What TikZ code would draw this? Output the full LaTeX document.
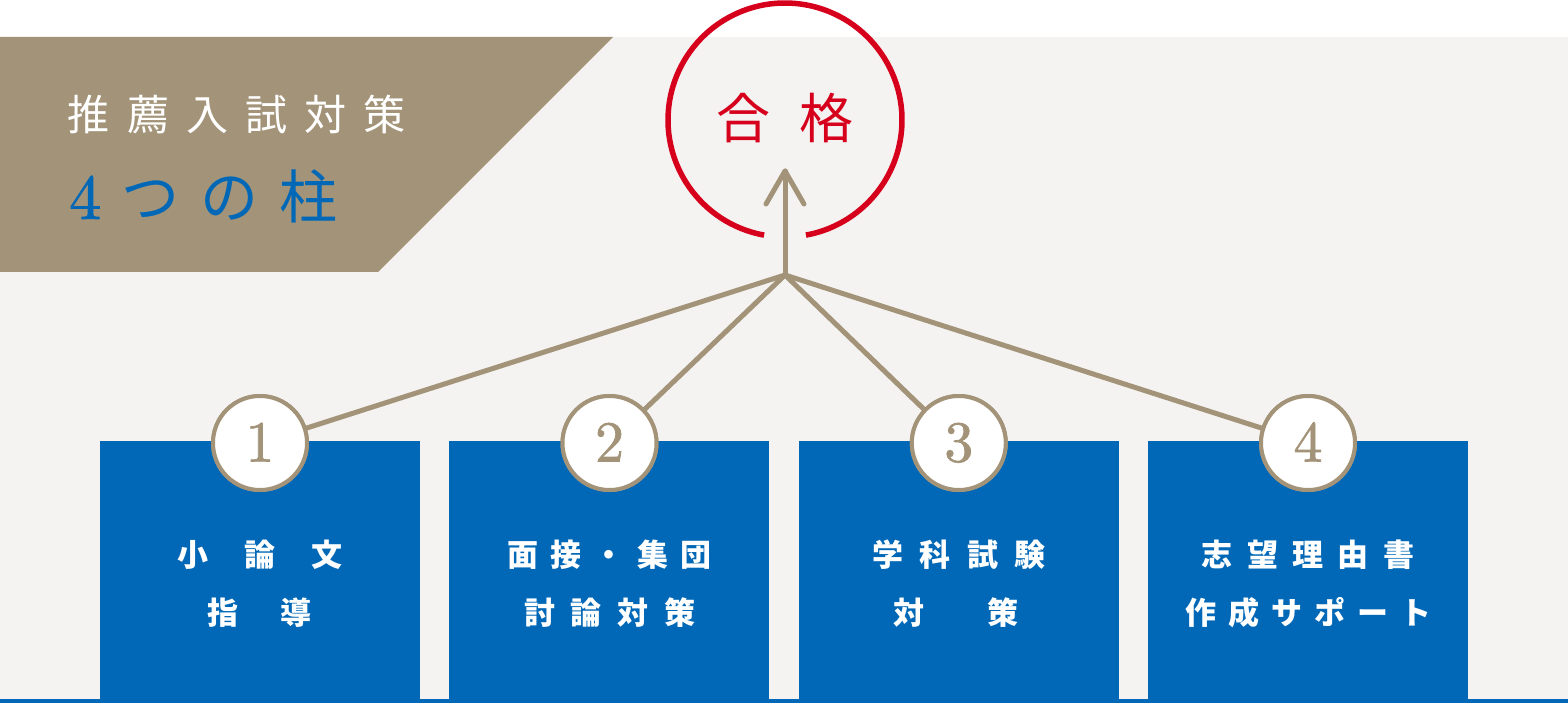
\documentclass[tikz,border=0pt]{standalone}
\usepackage{fontspec}
\newfontfamily\jp{Noto Sans CJK JP}
\newfontfamily\numfont[FakeBold=1.3]{lmroman10-regular.otf}
\definecolor{taupe}{HTML}{A39479}
\definecolor{boxblue}{HTML}{0068B6}
\definecolor{goalred}{HTML}{D6001C}
\definecolor{lightbg}{HTML}{F4F3F1}
\def\mypitch{}
\newcommand\spreadtext[2]{\def\mypitch{#1}\spreadloop#2\relax}
\def\spreadloop#1{\ifx#1\relax\else\makebox[\mypitch]{#1}\expandafter\spreadloop\fi}
\begin{document}
\begin{tikzpicture}[x=1pt,y=-1pt,
  pillar/.style={fill=boxblue, draw=none, minimum width=320pt, minimum height=262pt, inner sep=0pt, outer sep=0pt, anchor=north west},
  numcirc/.style={circle, draw=taupe, line width=4pt, fill=white, minimum size=94pt, inner sep=0pt},
  numtxt/.style={anchor=base, inner sep=0pt, text=taupe, font=\numfont\fontsize{58}{58}\selectfont},
  boxtxt/.style={anchor=base, inner sep=0pt, text=white, font=\jp\bfseries\fontsize{31}{31}\selectfont},
  stem/.style={draw=taupe, line width=5pt, line cap=round, line join=round}]
\useasboundingbox (0,0) rectangle (1568,703);
% background
\fill[white] (0,0) rectangle (1568,703);
\fill[lightbg] (0,37) rectangle (1568,703);
\fill[taupe] (0,37) -- (613,37) -- (378,272) -- (0,272) -- cycle;
\fill[boxblue] (0,699) rectangle (1568,703);
% title
\node[anchor=base, inner sep=0pt, text=white, font=\jp\fontsize{42}{42}\selectfont] (title1) at (236.7,131) {\spreadtext{59.1pt}{推薦入試対策}};
\node[anchor=base west, inner sep=0pt, text=boxblue] (title2) at (59,219) {{\numfont\fontsize{64}{64}\selectfont\makebox[52pt]{4}}{\jp\fontsize{58}{58}\selectfont\spreadtext{79pt}{つの柱}}};
% goal
\node[circle, minimum size=234pt, inner sep=0pt] (goal) at (785,120) {};
\draw[goalred, line width=5.5pt] (goal.center) ++(100.3:117) arc[start angle=100.3, end angle=439.7, radius=117];
\node[anchor=base, inner sep=0pt, text=goalred, font=\jp\fontsize{54}{54}\selectfont] (goaltxt) at (785,139) {\spreadtext{83pt}{合格}};
% boxes
\node[pillar] (b1) at (100,441) {};
\node[pillar] (b2) at (449,441) {};
\node[pillar] (b3) at (799,441) {};
\node[pillar] (b4) at (1148,441) {};
% connectors
\coordinate (junc) at (785,275);
\coordinate (tip) at (785,171);
\node[numcirc] (c1) at (260,443) {};
\node[numcirc] (c2) at (609.5,443) {};
\node[numcirc] (c3) at (958.8,443) {};
\node[numcirc] (c4) at (1308,443) {};
\draw[stem] (junc) -- (c1);
\draw[stem] (junc) -- (c2);
\draw[stem] (junc) -- (c3);
\draw[stem] (junc) -- (c4);
\draw[stem] (junc) -- (tip);
\draw[stem] (tip) ++(-19,33) -- (tip) -- ++(19,33);
% number circles on top
\node[numcirc] at (c1) {};
\node[numcirc] at (c2) {};
\node[numcirc] at (c3) {};
\node[numcirc] at (c4) {};
\node[numtxt] (d1) at (260,461.5) {1};
\node[numtxt] (d2) at (609.5,461.5) {2};
\node[numtxt] (d3) at (958.8,461.5) {3};
\node[numtxt] (d4) at (1308,461.5) {4};
% box texts
\node[boxtxt] (t1a) at (260,566) {\spreadtext{67.5pt}{小論文}};
\node[boxtxt] (t1b) at (259.5,624.5) {\spreadtext{73pt}{指導}};
\node[boxtxt] (t2a) at (609.5,566) {\spreadtext{43.3pt}{面接・集団}};
\node[boxtxt] (t2b) at (609.7,624.5) {\spreadtext{46.8pt}{討論対策}};
\node[boxtxt] (t3a) at (958.8,566) {\spreadtext{47.5pt}{学科試験}};
\node[boxtxt] (t3b) at (956,624.5) {\spreadtext{94pt}{対策}};
\node[boxtxt] (t4a) at (1308,566) {\spreadtext{45.4pt}{志望理由書}};
\node[boxtxt] (t4b) at (1308,624.5) {\spreadtext{43pt}{作成サポート}};
\end{tikzpicture}
\end{document}
